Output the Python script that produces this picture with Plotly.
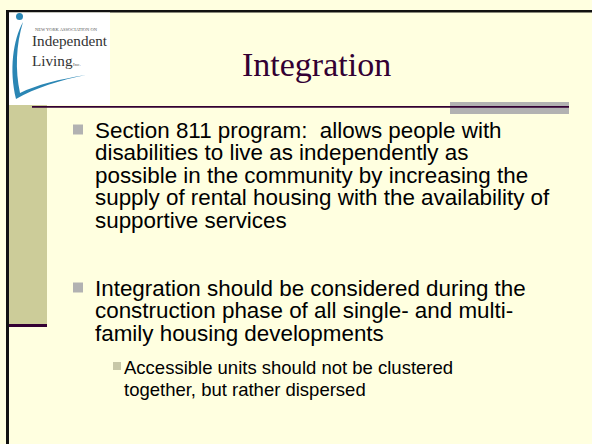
import plotly.graph_objects as go

# ---- slide content ----
title = "Integration"
bullet1_lines = [
    "Section 811 program:\u00a0 allows people with",
    "disabilities to live as independently as",
    "possible in the community by increasing the",
    "supply of rental housing with the availability of",
    "supportive services",
]
bullet2_lines = [
    "Integration should be considered during the",
    "construction phase of all single- and multi-",
    "family housing developments",
]
sub_bullet_lines = [
    "Accessible units should not be clustered",
    "together, but rather dispersed",
]
logo_small = "NEW YORK ASSOCIATION ON"
logo_word1 = "Independent"
logo_word2 = "Living"
logo_inc = "Inc."

W, H = 592, 444
BG = "#FFFFE0"
OLIVE = "#CCCC99"
PURPLE = "#330033"
GRAY = "#B2B2B2"

fig = go.Figure()
fig.add_trace(go.Scatter(x=[0, W], y=[0, H], mode="markers",
                         marker=dict(opacity=0), hoverinfo="skip", showlegend=False))

shapes = []
def rect(x0, y0, x1, y1, color):
    shapes.append(dict(type="rect", xref="x", yref="y", x0=x0, y0=y0, x1=x1, y1=y1,
                       fillcolor=color, line=dict(width=0), layer="below"))

# frame
rect(6, 10, W, 12.5, "#111111")
rect(6, 10, 9, H, "#111111")
# left olive bar + purple foot
rect(9, 105, 47, 324, OLIVE)
rect(9, 324, 47, 327, PURPLE)
# logo box
rect(9, 12.5, 110, 105, "#FFFFFF")
# gray bar and purple rule
rect(450, 102, 569, 114, GRAY)
rect(32, 106, 569, 107.8, PURPLE)
# bullets
rect(73, 124.5, 83, 134.5, GRAY)
rect(73, 282.5, 83, 292.5, GRAY)
rect(113, 362, 121, 370, "#C8C8A8")

# logo swoosh
shapes.append(dict(type="path", xref="x", yref="y",
                   path="M 23,22 C 13,40 9,70 16,99 C 35,88 60,80 86,75 "
                        "C 60,79 36,85 20,93 C 15,70 16,45 23,22 Z",
                   fillcolor="#2A86B4", line=dict(width=0), layer="above"))
shapes.append(dict(type="circle", xref="x", yref="y", x0=16, y0=13, x1=23, y1=20,
                   fillcolor="#2A86B4", line=dict(width=0)))

annotations = []
def text(x, y, s, size, color="#000000", family="Liberation Sans, Arial, sans-serif",
         xanchor="left"):
    annotations.append(dict(x=x, y=y, xref="x", yref="y", text=s, showarrow=False,
                            xanchor=xanchor, yanchor="middle",
                            font=dict(size=size, color=color, family=family)))

serif = "Liberation Serif, Times New Roman, serif"
text(316, 64, title, 34, PURPLE, serif, xanchor="center")

y0, pitch = 130, 22.6
for i, s in enumerate(bullet1_lines):
    text(93, y0 + i * pitch, s, 22.4)
y0 = 288
for i, s in enumerate(bullet2_lines):
    text(93, y0 + i * pitch, s, 22.4)
y0 = 367
for i, s in enumerate(sub_bullet_lines):
    text(122, y0 + i * pitch, s, 18.5)

# logo text
text(33, 29, logo_small, 4.5, "#555555", serif)
text(30, 40, logo_word1, 15.2, "#333333", serif)
text(30, 60, logo_word2, 15.2, "#333333", serif)
text(71, 64, logo_inc, 5, "#555555", serif)

fig.update_layout(
    width=W, height=H, margin=dict(l=0, r=0, t=0, b=0),
    paper_bgcolor=BG, plot_bgcolor=BG,
    xaxis=dict(range=[0, W], visible=False, fixedrange=True),
    yaxis=dict(range=[H, 0], visible=False, fixedrange=True),
    shapes=shapes, annotations=annotations, showlegend=False,
)
fig.write_html("out.html", config={"displayModeBar": False},
               post_script="document.body.style.margin='0';document.body.style.overflow='hidden';")
